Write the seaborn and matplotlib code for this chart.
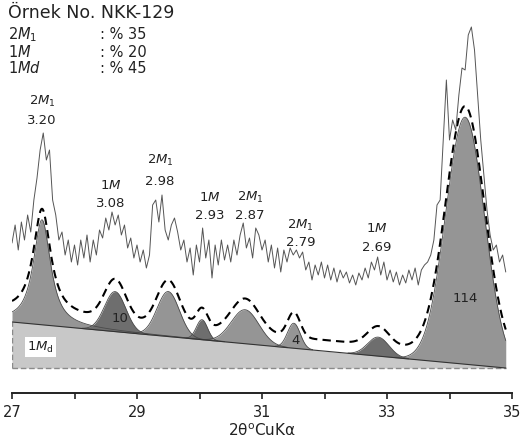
import numpy as np
import pandas as pd
import seaborn as sns
import matplotlib.pyplot as plt

# observed pattern (2theta step 0.05, counts in arbitrary units)
scan_start, scan_step = 27.0, 0.05
counts = [125, 143, 118, 146, 128, 153, 136, 168, 190, 218, 235, 208, 218, 168, 153, 128, 136, 113, 128, 106,
          123, 103, 128, 110, 133, 106, 128, 113, 138, 130, 150, 138, 156, 143, 153, 133, 143, 120, 130, 110,
          123, 106, 118, 100, 113, 163, 168, 146, 173, 138, 128, 143, 150, 136, 118, 128, 106, 120, 93, 123,
          106, 140, 110, 128, 90, 123, 103, 128, 108, 123, 106, 128, 113, 133, 145, 120, 130, 110, 140, 133,
          118, 128, 106, 123, 100, 120, 96, 118, 106, 120, 113, 118, 110, 116, 98, 106, 88, 103, 93, 106,
          90, 103, 88, 100, 86, 98, 90, 96, 85, 93, 83, 95, 88, 100, 90, 106, 98, 111, 93, 106,
          88, 98, 86, 96, 83, 93, 85, 98, 88, 100, 83, 98, 103, 106, 113, 128, 163, 168, 228, 288,
          228, 248, 238, 273, 300, 298, 333, 341, 318, 273, 228, 193, 158, 133, 118, 123, 106, 113, 96]
two_theta = np.round(scan_start + scan_step * np.arange(len(counts)), 2)

# 1Md background (linear) end points
bg_x = [27.0, 34.9]
bg_y = [46, 0]

# fitted components: centre, height, fwhm, lorentz fraction, shade
pk_center = [27.48, 28.65, 29.50, 30.04, 30.73, 31.51, 32.86, 34.25]
pk_height = [105, 40, 45, 20, 34, 25, 19, 247]
pk_fwhm = [0.33, 0.40, 0.42, 0.21, 0.52, 0.24, 0.40, 0.73]
pk_eta = [0.9, 0, 0, 0, 0, 0, 0, 0]
pk_shade = ['#959595', '#6e6e6e', '#959595', '#6e6e6e', '#959595', '#959595', '#6e6e6e', '#959595']
env_offset = 11

# reflection labels
ref_phase = ['2$\\mathit{M}_1$', '1$\\mathit{M}$', '2$\\mathit{M}_1$', '1$\\mathit{M}$',
             '2$\\mathit{M}_1$', '2$\\mathit{M}_1$', '1$\\mathit{M}$']
ref_d = ['3.20', '3.08', '2.98', '2.93', '2.87', '2.79', '2.69']
ref_pos = [(27.48, 267, 248), (28.58, 183, 165), (29.37, 208, 187), (30.17, 171, 153),
           (30.81, 171, 153), (31.62, 143, 126), (32.84, 140, 121)]

area_labels = ['10', '4', '114']
area_pos = [(28.73, 50), (31.53, 28), (34.25, 70)]

comp_names = ['2$\\mathit{M}_1$', '1$\\mathit{M}$', '1$\\mathit{Md}$']
comp_pct = [35, 20, 45]

sns.set_style('ticks')
plt.rcParams['font.family'] = ['DejaVu Sans']
plt.rcParams['mathtext.fontset'] = 'dejavusans'

fig = plt.figure(figsize=(5.24, 4.4), dpi=100)
ax = fig.add_axes([12 / 524, 1 - 393 / 440, 500 / 524, 393 / 440])

grid = np.linspace(bg_x[0], bg_x[1], 1500)
bg = np.interp(grid, bg_x, bg_y)

def pvoigt(x, c, h, w, eta):
    d = (x - c) / w
    return h * (eta / (1 + 4 * d ** 2) + (1 - eta) * np.exp(-4 * np.log(2) * d ** 2))

# 1Md area
ax.fill_between(grid, 0, bg, color='#c8c8c8', lw=0, zorder=1)
ax.plot(bg_x, [0, 0], color='#8a8a8a', lw=1.0, ls=(0, (4, 2)), zorder=2)
ax.plot([bg_x[0], bg_x[0]], [0, bg_y[0]], color='#8a8a8a', lw=1.0, ls=(0, (4, 2)), zorder=2)

total = bg.copy()
for c, h, w, eta, sh in zip(pk_center, pk_height, pk_fwhm, pk_eta, pk_shade):
    prof = pvoigt(grid, c, h, w, eta)
    total += prof
    m = prof > 0.3
    ax.fill_between(grid, bg, bg + prof, where=m, color=sh, lw=0, zorder=3)
    ax.plot(grid[m], (bg + prof)[m], color='#4a4a4a', lw=0.6, zorder=4)

ax.plot(grid, bg, color='#333333', lw=0.8, zorder=4)

# calculated envelope
sns.lineplot(x=grid, y=total + env_offset, ax=ax, color='black', lw=1.5,
             linestyle=(0, (4, 2.5)), estimator=None, sort=False, zorder=5)

# observed
df = pd.DataFrame({'two_theta': two_theta, 'counts': counts})
sns.lineplot(data=df, x='two_theta', y='counts', ax=ax, color='#555555', lw=0.7,
             estimator=None, sort=False, zorder=6)

for ph, d, (x, yn, yd) in zip(ref_phase, ref_d, ref_pos):
    ax.text(x, yn, ph, ha='center', va='center', fontsize=9.5, color='#222222')
    ax.text(x, yd, d, ha='center', va='center', fontsize=9.5, color='#222222')

for t, (x, y) in zip(area_labels, area_pos):
    ax.text(x, y, t, ha='center', va='center', fontsize=9.5, color='#222222', zorder=7)

ax.text(27.24, 21, '1$\\mathit{M}_\\mathrm{d}$', ha='left', va='center', fontsize=9.5,
        color='#222222', zorder=7,
        bbox=dict(boxstyle='square,pad=0.15', fc='white', ec='none'))

ax.set_xlim(27, 35)
ax.set_ylim(-25, 368)
ax.set_xticks(range(27, 36))
ax.set_xticklabels([str(v) if v % 2 else '' for v in range(27, 36)])
ax.tick_params(axis='x', direction='out', length=4.5, width=1.2, labelsize=10.5, pad=4,
               colors='#222222')
ax.set_yticks([])
ax.set_xlabel('')
ax.set_ylabel('')
for s in ['left', 'right', 'top']:
    ax.spines[s].set_visible(False)
ax.spines['bottom'].set_linewidth(1.4)
ax.spines['bottom'].set_color('#222222')
ax.set_facecolor('none')

fig.text(262 / 524, 1 - 431 / 440, '2θ$^{\\mathrm{o}}$CuKα', ha='center', va='center',
         fontsize=11, color='#222222')

fig.text(8 / 524, 1 - 18 / 440, 'Örnek No. NKK-129', ha='left', va='baseline',
         fontsize=12.5, color='#222222')
for i, (nm, p) in enumerate(zip(comp_names, comp_pct)):
    yb = [39, 57, 73][i]
    fig.text(8 / 524, 1 - yb / 440, nm, ha='left', va='baseline', fontsize=10.5, color='#222222')
    fig.text(100 / 524, 1 - yb / 440, f': % {p}', ha='left', va='baseline', fontsize=10.5,
             color='#222222')

fig.savefig('out.png', dpi=100)
